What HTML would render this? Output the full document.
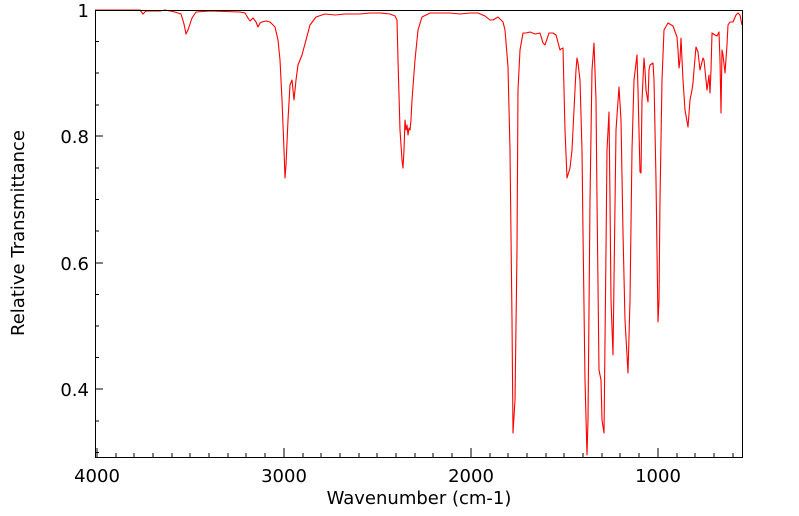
<!DOCTYPE html>
<html><head><meta charset="utf-8"><style>
html,body{margin:0;padding:0;background:#fff;}
svg{display:block;font-family:"DejaVu Sans","Liberation Sans",sans-serif;}
</style></head><body>
<svg width="799" height="516" viewBox="0 0 799 516" xmlns="http://www.w3.org/2000/svg">
<rect width="799" height="516" fill="#fff"/>
<g stroke="#000" stroke-width="1" fill="none">
<path d="M658,457v-9M471,457v-9M284,457v-9M97,457v-9"/>
<path d="M116,457v-4M134,457v-4M153,457v-4M172,457v-4M190,457v-4M209,457v-4M228,457v-4M246,457v-4M265,457v-4
M303,457v-4M321,457v-4M340,457v-4M359,457v-4M377,457v-4M396,457v-4M415,457v-4M433,457v-4M452,457v-4
M490,457v-4M508,457v-4M527,457v-4M546,457v-4M564,457v-4M583,457v-4M602,457v-4M620,457v-4M639,457v-4
M677,457v-4M695,457v-4M714,457v-4M733,457v-4"/>
<path d="M95,10h8M95,136h8M95,263h8M95,389h8"/>
<path d="M95,41.5h4M95,73h4M95,105h4M95,168h4M95,199.5h4M95,231h4M95,294.5h4M95,326h4M95,357.5h4M95,421h4M95,452.5h4"/>
</g>
<path fill="none" stroke="#ff0000" stroke-width="1.1" stroke-linejoin="round" d="M95,10 L140,10 143,14 146,11 160,11 165,10 175,12 178,13 181,14 184,24 186,34 188,30 192,18 196,12 210,11 240,12 245,13 248,18 250,21 253,18 256,22 258,27 260,23 262,22 266,21 270,22 275,27 278,40 280,60 282,100 284,150 285,178 286,165 288,120 290,85 292,80 293,90 294,100 296,80 298,65 302,55 306,40 310,25 316,17 325,14 335,15 345,14 360,14 370,13 380,13 390,14 395,16 397,20 398,60 400,130 402,160 403,168 404,150 405,120 406,130 407,125 408,135 409,128 410,130 411,120 412,100 415,60 418,30 422,17 430,13 450,13 460,14 470,13 478,13 485,16 490,20 493,20 498,17 503,22 505,30 508,67 510,150 512,320 513,433 515,400 517,250 518,90 520,50 523,33 526,33 530,32 535,34 540,33 543,43 545,45 549,33 553,33 556,35 560,50 561,49 563,48 565,130 567,178 570,168 572,150 574,110 576,70 577,58 578,63 580,80 582,150 583,233 585,380 587,455 588,420 590,200 592,70 594,43 596,100 597,200 599,370 601,380 602,420 604,433 606,250 607,150 609,112 610,200 611,300 613,355 614,280 616,130 619,87 621,120 623,233 625,320 628,373 630,300 632,150 634,80 637,55 638,90 640,172 641,173 642,100 644,58 645,70 646,90 648,102 649,70 650,65 653,63 654,80 656,180 658,322 659,300 660,200 662,80 664,30 668,23 673,26 677,37 678,50 679,68 680,60 681,38 683,80 685,110 688,127 690,100 692,90 693,83 694,70 696,47 698,52 700,70 703,58 704,60 706,80 707,90 709,75 710,93 711,70 712,33 715,35 717,36 719,32 720,60 721,113 722,50 723,55 725,73 727,45 728,25 730,22 733,22 736,15 738,13 740,15 742,25"/>
<rect x="95.5" y="10.5" width="647" height="447" fill="none" stroke="#000" stroke-width="1"/>
<g font-size="18" fill="#000" text-anchor="end">
<text x="89" y="17">1</text>
<text x="89" y="143">0.8</text>
<text x="89" y="270">0.6</text>
<text x="89" y="396">0.4</text>
</g>
<g font-size="18" fill="#000" text-anchor="middle">
<text x="97" y="482">4000</text>
<text x="284" y="482">3000</text>
<text x="471" y="482">2000</text>
<text x="658" y="482">1000</text>
<text x="419" y="504">Wavenumber (cm-1)</text>
<text transform="translate(24,233) rotate(-90)">Relative Transmittance</text>
</g>
</svg>
</body></html>
